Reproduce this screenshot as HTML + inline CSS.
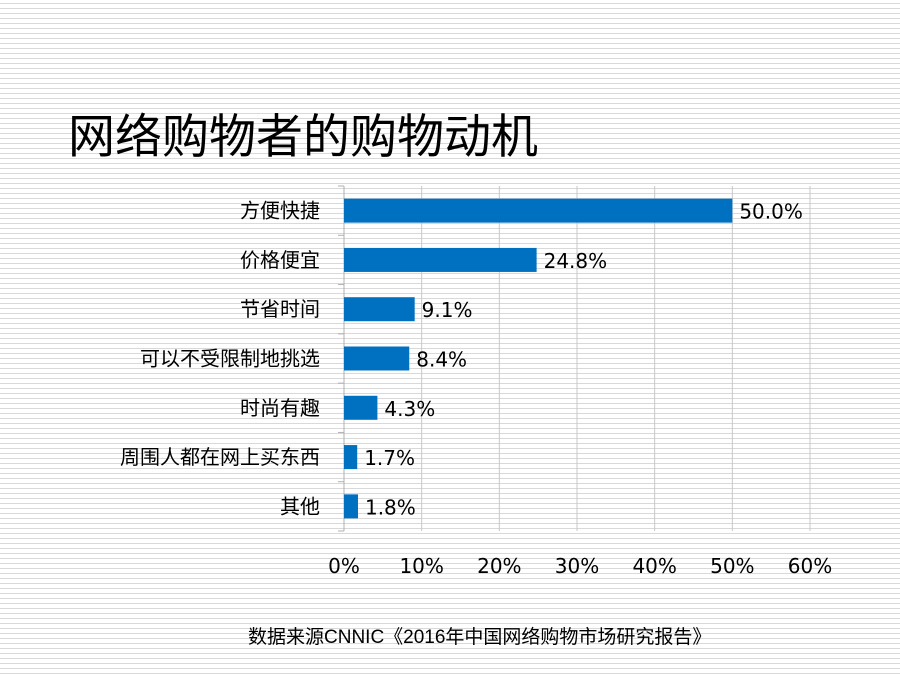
<!DOCTYPE html>
<html><head><meta charset="utf-8"><style>
body{margin:0}
#wrap{width:900px;height:675px;position:relative;overflow:hidden;background:#fff repeating-linear-gradient(to bottom,#fff 0,#fff 3px,#d9d9d9 3px,#d9d9d9 4px,#fff 4px,#fff 5px);font-family:"Liberation Sans","Noto Sans CJK SC",sans-serif}
h1{position:absolute;left:68px;top:98px;margin:0;font-size:47px;font-weight:normal;color:#000;font-family:"Liberation Sans","Noto Sans CJK SC",sans-serif}
#src{position:absolute;left:248px;top:622px;font-size:19px;color:#000}
</style></head><body>
<div id="wrap">
<h1>网络购物者的购物动机</h1>
<svg id="chart" width="900" height="675" style="position:absolute;left:0;top:0"></svg>
<div id="src">数据来源CNNIC《2016年中国网络购物市场研究报告》</div>
</div>
<script>
const categories=["方便快捷","价格便宜","节省时间","可以不受限制地挑选","时尚有趣","周围人都在网上买东西","其他"];
const values=[50.0,24.8,9.1,8.4,4.3,1.7,1.8];
const valueLabels=["50.0%","24.8%","9.1%","8.4%","4.3%","1.7%","1.8%"];
const ticks=[0,10,20,30,40,50,60];
const tickLabels=["0%","10%","20%","30%","40%","50%","60%"];
const NS="http://www.w3.org/2000/svg";
const svgEl=document.getElementById('chart');
const x0=344,x1=810,plotTop=186,plotBot=531;
const xs=v=>x0+(v-0)/60*(x1-x0);
const band=(plotBot-plotTop)/categories.length;
const yc=i=>plotTop+band*(i+0.5);
function mk(t,a){const e=document.createElementNS(NS,t);for(const k in a)e.setAttribute(k,a[k]);svgEl.appendChild(e);return e;}
ticks.forEach((t,i)=>{
 const g=mk('line',{x1:xs(t),x2:xs(t),y1:plotTop,y2:plotBot,stroke:'#c8c8c8','stroke-width':1});
 
 
 const l=mk('text',{x:xs(t),y:573,'text-anchor':'middle','font-size':20,fill:'#000','font-family':'DejaVu Sans, sans-serif'});
 l.textContent=tickLabels[i];
 
 
});
const ax=mk('line',{x1:x0,x2:x0,y1:plotTop,y2:plotBot,stroke:'#b0b0b0','stroke-width':1});


for(let i=0;i<=categories.length;i++){
 const tk=mk('line',{x1:x0-6,x2:x0,y1:plotTop+band*i,y2:plotTop+band*i,stroke:'#b0b0b0'});
 
 
}
categories.forEach((c,i)=>{
 const y=yc(i);
 const r=mk('rect',{x:x0,y:y-12,width:xs(values[i])-x0,height:24,fill:'#0070c0'});
 
 
 const t=mk('text',{x:320,y:y+7,'text-anchor':'end','font-size':20,fill:'#000','font-family':'Liberation Sans, Noto Sans CJK SC, sans-serif'});
 t.textContent=c;
 
 
 const v=mk('text',{x:xs(values[i])+7,y:y+8,'font-size':20,fill:'#000','font-family':'DejaVu Sans, sans-serif'});
 v.textContent=valueLabels[i];
 
 
});
</script>
</body></html>
